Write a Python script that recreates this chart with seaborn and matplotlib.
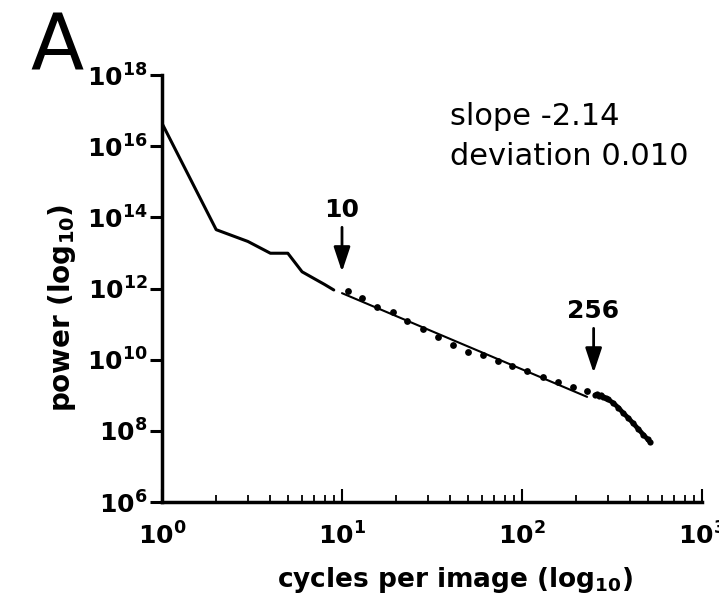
import matplotlib
matplotlib.use("Agg")
import matplotlib.pyplot as plt
import numpy as np
import pandas as pd
import seaborn as sns

sns.set_theme(style="white")
plt.rcParams["font.family"] = ["DejaVu Sans"]
plt.rcParams["mathtext.fontset"] = "dejavusans"
plt.rcParams["text.color"] = "black"
plt.rcParams["axes.labelcolor"] = "black"
plt.rcParams["xtick.color"] = "black"
plt.rcParams["ytick.color"] = "black"

# ---- data ----
low_freq = [1, 2, 3, 4, 5, 6, 7, 8, 9]
low_power = [4.4e16, 4.5e13, 2.1e13, 9.8e12, 9.8e12, 2.95e12, 1.9e12, 1.3e12, 9.1e11]

mid_freq = [10.8, 12.9, 15.6, 19.1, 22.9, 28.1, 34.3, 41.5, 50.3, 60.5,
            73.3, 88.3, 107, 131, 159, 191, 229]
mid_power = [8.7e11, 5.5e11, 3.1e11, 2.24e11, 1.26e11, 7.4e10, 4.27e10, 2.51e10,
             1.66e10, 1.38e10, 9.3e9, 6.5e9, 4.7e9, 3.2e9, 2.3e9, 1.7e9, 1.32e9]

fit_freq = [10, 230]
fit_power = [7.4e11, 9.0e8]

tail_freq = [256, 262, 268, 275, 283, 292, 302, 322, 343, 365, 390, 415, 443, 472, 500, 512]
tail_power = [1.02e9, 1.07e9, 9.5e8, 1.0e9, 8.9e8, 8.3e8, 7.6e8, 6.0e8, 4.5e8,
              3.16e8, 2.29e8, 1.62e8, 1.12e8, 7.8e7, 5.75e7, 5.0e7]

y_ticks = [1e6, 1e8, 1e10, 1e12, 1e14, 1e16, 1e18]
y_ticklabels = [r"$\mathbf{10^{6}}$", r"$\mathbf{10^{8}}$", r"$\mathbf{10^{10}}$",
                r"$\mathbf{10^{12}}$", r"$\mathbf{10^{14}}$", r"$\mathbf{10^{16}}$",
                r"$\mathbf{10^{18}}$"]
x_ticks = [1, 10, 100, 1000]
x_ticklabels = [r"$\mathbf{10^{0}}$", r"$\mathbf{10^{1}}$", r"$\mathbf{10^{2}}$",
                r"$\mathbf{10^{3}}$"]

# ---- figure ----
W, H = 719, 604
fig = plt.figure(figsize=(W / 100, H / 100), dpi=100)
ax = fig.add_axes([162 / W, 1 - 502 / H, 540 / W, 427 / H])
ax.set_xscale("log")
ax.set_yscale("log")

low_df = pd.DataFrame({"f": low_freq, "p": low_power})
mid_df = pd.DataFrame({"f": mid_freq, "p": mid_power})
fit_df = pd.DataFrame({"f": fit_freq, "p": fit_power})
tail_df = pd.DataFrame({"f": tail_freq, "p": tail_power})

sns.lineplot(data=low_df, x="f", y="p", ax=ax, color="black", lw=2.2, sort=False)
sns.lineplot(data=fit_df, x="f", y="p", ax=ax, color="black", lw=1.5, sort=False)
sns.scatterplot(data=mid_df, x="f", y="p", ax=ax, color="black", s=24,
                edgecolor="black", linewidth=0)
sns.lineplot(data=tail_df, x="f", y="p", ax=ax, color="black", lw=3.4, sort=False)
sns.scatterplot(data=tail_df, x="f", y="p", ax=ax, color="black", s=20,
                edgecolor="black", linewidth=0)

ax.set_xlim(1, 1000)
ax.set_ylim(1e6, 1e18)
ax.set_xlabel("")
ax.set_ylabel("")

for s in ["top", "right"]:
    ax.spines[s].set_visible(False)
for s in ["left", "bottom"]:
    ax.spines[s].set_linewidth(2.5)
    ax.spines[s].set_color("black")

ax.set_yticks(y_ticks)
ax.set_yticklabels(y_ticklabels, fontsize=18)
ax.yaxis.set_minor_locator(matplotlib.ticker.NullLocator())
ax.set_xticks(x_ticks)
ax.set_xticklabels(x_ticklabels, fontsize=18)
ax.xaxis.set_minor_locator(matplotlib.ticker.LogLocator(base=10, subs=np.arange(2, 10)))
ax.xaxis.set_minor_formatter(matplotlib.ticker.NullFormatter())

ax.tick_params(axis="y", which="major", direction="out", length=8.5, width=2.2,
               pad=2, color="black", labelcolor="black", left=True)
ax.tick_params(axis="x", which="major", direction="in", length=9.5, width=1.5,
               pad=15, color="black", labelcolor="black", bottom=True)
ax.tick_params(axis="x", which="minor", direction="in", length=5, width=1.3,
               color="black", bottom=True)
for lab in ax.get_yticklabels():
    lab.set_verticalalignment("center_baseline")

# arrows and annotations
arrow_kw = dict(arrowstyle="-|>,head_length=1.5,head_width=0.5", lw=2,
                color="black", shrinkA=0, shrinkB=0, mutation_scale=10)
ax.annotate("", xy=(10, 10**12.47), xytext=(10, 10**13.72), arrowprops=arrow_kw)
ax.text(10, 10**14.2, "10", ha="center", va="center", fontsize=18,
        fontweight="bold", color="black")
ax.annotate("", xy=(250, 10**9.63), xytext=(250, 10**10.88), arrowprops=arrow_kw)
ax.text(247, 10**11.37, "256", ha="center", va="center", fontsize=18,
        fontweight="bold", color="black")

# labels
fig.text(455 / W, 1 - 580 / H, r"cycles per image (log$_{\mathbf{10}}$)", ha="center",
         va="center", fontsize=19, fontweight="bold", color="black")
fig.text(62 / W, 1 - 308 / H, r"power (log$_{\mathbf{10}}$)", ha="center", va="center",
         fontsize=20, fontweight="bold", rotation=90, color="black")

fig.text(450 / W, 1 - 125 / H, "slope -2.14", ha="left", va="baseline", fontsize=22,
         color="black")
fig.text(450 / W, 1 - 165 / H, "deviation 0.010", ha="left", va="baseline", fontsize=22,
         color="black")
fig.text(30 / W, 1 - 70 / H, "A", ha="left", va="baseline", fontsize=56, color="black")

fig.savefig("out.png", dpi=100)
